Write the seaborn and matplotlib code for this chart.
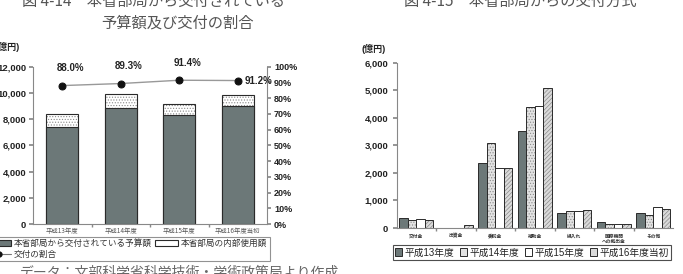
import matplotlib
matplotlib.use("Agg")
from matplotlib import pyplot as plt
from matplotlib.patches import Patch
from matplotlib.lines import Line2D
from matplotlib.colors import to_rgba
import seaborn as sns
import numpy as np
import pandas as pd

# left chart: 本省部局から交付されている予算額 / 内部使用額 (億円) and 交付の割合 (%)
years = ["平成13年度", "平成14年度", "平成15年度", "平成16年度当初"]
granted = [7390, 8840, 8350, 9020]
internal = [1000, 1080, 790, 800]
ratio = [88.0, 89.3, 91.4, 91.2]
ratio_labels = ["88.0%", "89.3%", "91.4%", "91.2%"]

# right chart: 交付方式 (億円)
methods = ["交付金", "出資金", "委託金", "補助金", "繰入れ", "国際機関\nへの拠出金", "その他"]
hue_years = ["平成13年度", "平成14年度", "平成15年度", "平成16年度当初"]
h13 = [350, 0, 2350, 3530, 560, 205, 530]
h14 = [275, 0, 3090, 4390, 630, 145, 460]
h15 = [315, 0, 2160, 4430, 630, 145, 765]
h16 = [285, 110, 2190, 5065, 640, 145, 680]

DARK = "#6c7878"
EDGE = "#2a2a2a"

sns.set_theme(style="white")
plt.rcParams["font.family"] = ["Liberation Sans", "Noto Sans CJK JP", "DejaVu Sans"]
plt.rcParams["hatch.linewidth"] = 0.5

W, H = 683, 274
fig = plt.figure(figsize=(W / 100, H / 100), dpi=100)


def fx(px):
    return px / W


def fy(py):
    return 1 - py / H


def light_hatch(patches, pattern, col="#8a8a8a"):
    for p in patches:
        p.set_hatch(pattern)
        if hasattr(p, "set_hatchcolor"):
            p.set_hatchcolor(col)
        else:
            p._hatch_color = to_rgba(col)


# ---------------- left chart ----------------
ax1 = fig.add_axes([fx(33), fy(224), fx(267) - fx(33), fy(66.7) - fy(224)])
totals = [g + i for g, i in zip(granted, internal)]
left = pd.DataFrame({"year": years, "total": totals, "granted": granted})

sns.barplot(data=left, x="year", y="total", ax=ax1, color="white",
            edgecolor=EDGE, linewidth=0.8, width=0.55, saturation=1)
light_hatch(ax1.patches, "......")
sns.barplot(data=left, x="year", y="granted", ax=ax1, color=DARK,
            edgecolor=EDGE, linewidth=0.8, width=0.55, saturation=1)

ax1.set_xlim(-0.5, 3.5)
ax1.set_ylim(0, 12000)
ax1.set_yticks(np.arange(0, 12001, 2000))
ax1.set_yticklabels([f"{v:,}" for v in range(0, 12001, 2000)],
                    fontsize=6.8, fontweight="bold", color="#222")
ax1.set_xticklabels(years, fontsize=4.6, color="#555",
                    family=["Noto Sans CJK JP"])
ax1.set_xticks([0.5, 1.5, 2.5], minor=True)
ax1.tick_params(axis="x", which="major", length=0, pad=2)
ax1.tick_params(axis="x", which="minor", length=2, color="#888", bottom=True)
ax1.tick_params(axis="y", length=3, color="#888", left=True, pad=2)
ax1.set_xlabel("")
ax1.set_ylabel("")
for s in ["top", "right"]:
    ax1.spines[s].set_visible(False)
for s in ["left", "bottom"]:
    ax1.spines[s].set_color("#888")
    ax1.spines[s].set_linewidth(0.8)

ax2 = ax1.twinx()
sns.pointplot(x=years, y=ratio, ax=ax2, color="#999999", markers="o",
              linestyles="-", markersize=5, linewidth=1)
for ln in ax2.lines:
    ln.set_markerfacecolor("#111")
    ln.set_markeredgecolor("#111")
ax2.set_xlim(-0.5, 3.5)
ax2.set_ylim(0, 100)
ax2.set_yticks(np.arange(0, 101, 10))
ax2.set_yticklabels([f"{v}%" for v in range(0, 101, 10)],
                    fontsize=6.5, fontweight="bold", color="#222")
ax2.tick_params(axis="y", length=3, color="#888", right=True, pad=2)
ax2.set_ylabel("")
for s in ["top", "left", "bottom"]:
    ax2.spines[s].set_visible(False)
ax2.spines["right"].set_color("#888")
ax2.spines["right"].set_linewidth(0.8)

for i, (r, lab) in enumerate(zip(ratio, ratio_labels)):
    if i < len(ratio) - 1:
        ax2.annotate(lab, (i, r), xytext=(6, 9), textcoords="offset points",
                     ha="center", va="bottom", fontsize=7, fontweight="bold",
                     color="#222")
    else:
        ax2.annotate(lab, (i, r), xytext=(5, 0), textcoords="offset points",
                     ha="left", va="center", fontsize=7, fontweight="bold",
                     color="#222")

fig.text(fx(-4), fy(47), "(億円)", fontsize=6.5, fontweight="bold",
         va="center", ha="left", color="#222")

h_dark = Patch(facecolor=DARK, edgecolor=EDGE, linewidth=0.8)
h_white = Patch(facecolor="white", edgecolor=EDGE, linewidth=0.8)
h_line = Line2D([], [], color="#777", marker="o", markersize=3.5,
                markerfacecolor="#111", markeredgecolor="#111", linewidth=0.8)
leg1 = fig.legend([h_dark, h_line, h_white],
                  ["本省部局から交付されている予算額", "交付の割合", "本省部局の内部使用額"],
                  ncol=2, loc="upper left", bbox_to_anchor=(fx(-15), fy(236.5)),
                  fontsize=6.2, frameon=True, fancybox=False, handlelength=2.7,
                  handleheight=0.75, handletextpad=0.3, columnspacing=0.4,
                  borderpad=0.3, labelspacing=0.2, borderaxespad=0)
leg1.get_frame().set_edgecolor("#777")
leg1.get_frame().set_linewidth(0.8)
for t in leg1.get_texts():
    t.set_color("#333")

# ---------------- right chart ----------------
ax3 = fig.add_axes([fx(396.7), fy(228), fx(673) - fx(396.7), fy(62.7) - fy(228)])
right = pd.DataFrame({
    "method": np.repeat(methods, 4),
    "year": hue_years * len(methods),
    "value": np.column_stack([h13, h14, h15, h16]).ravel(),
})
pal = [DARK, "#e2e2e2", "white", "#dadada"]
sns.barplot(data=right, x="method", y="value", hue="year", hue_order=hue_years,
            palette=pal, ax=ax3, width=0.86, edgecolor=EDGE, linewidth=0.7,
            saturation=1, legend=False)
light_hatch(ax3.containers[1].patches, "......")
light_hatch(ax3.containers[3].patches, "////////")

ax3.set_xlim(-0.5, 6.5)
ax3.set_ylim(0, 6000)
ax3.set_yticks(np.arange(0, 6001, 1000))
ax3.set_yticklabels([f"{v:,}" for v in range(0, 6001, 1000)],
                    fontsize=6.8, fontweight="bold", color="#222")
ax3.set_xticklabels(methods, fontsize=3.4, fontweight="bold", color="#333",
                    family=["Noto Sans CJK JP"], linespacing=1.1)
ax3.set_xticks(np.arange(0.5, 6, 1), minor=True)
ax3.tick_params(axis="x", which="major", length=0, pad=4)
ax3.tick_params(axis="x", which="minor", length=2, color="#888", bottom=True)
ax3.tick_params(axis="y", length=3, color="#888", left=True, pad=3)
ax3.set_xlabel("")
ax3.set_ylabel("")
for s in ["top", "right"]:
    ax3.spines[s].set_visible(False)
for s in ["left", "bottom"]:
    ax3.spines[s].set_color("#888")
    ax3.spines[s].set_linewidth(0.8)

fig.text(fx(362), fy(49), "(億円)", fontsize=6.5, fontweight="bold",
         va="center", ha="left", color="#222")

handles = [Patch(facecolor=c, edgecolor=EDGE, linewidth=0.7) for c in pal]
leg2 = fig.legend(handles, hue_years, ncol=4, loc="upper left",
                  bbox_to_anchor=(fx(392.7), fy(245)), fontsize=7.0,
                  frameon=True, fancybox=False, handlelength=0.75,
                  handleheight=0.75, handletextpad=0.25, columnspacing=0.55,
                  borderpad=0.25, borderaxespad=0)
leg2.get_frame().set_edgecolor("#222")
leg2.get_frame().set_linewidth(0.8)
for t in leg2.get_texts():
    t.set_color("#222")

# ---------------- titles / note ----------------
fig.text(fx(153), fy(1), "図 4-14　本省部局から交付されている", fontsize=11,
         ha="center", va="center", color="#555", family=["Noto Sans CJK JP"])
fig.text(fx(177), fy(23), "予算額及び交付の割合", fontsize=11,
         ha="center", va="center", color="#555", family=["Noto Sans CJK JP"])
fig.text(fx(520), fy(1), "図 4-15　本省部局からの交付方式", fontsize=11,
         ha="center", va="center", color="#555", family=["Noto Sans CJK JP"])
fig.text(fx(20), fy(265.5), "データ：文部科学省科学技術・学術政策局より作成",
         fontsize=10, ha="left", va="top", color="#666",
         family=["Noto Sans CJK JP"])

fig.savefig("out.png", dpi=100)
